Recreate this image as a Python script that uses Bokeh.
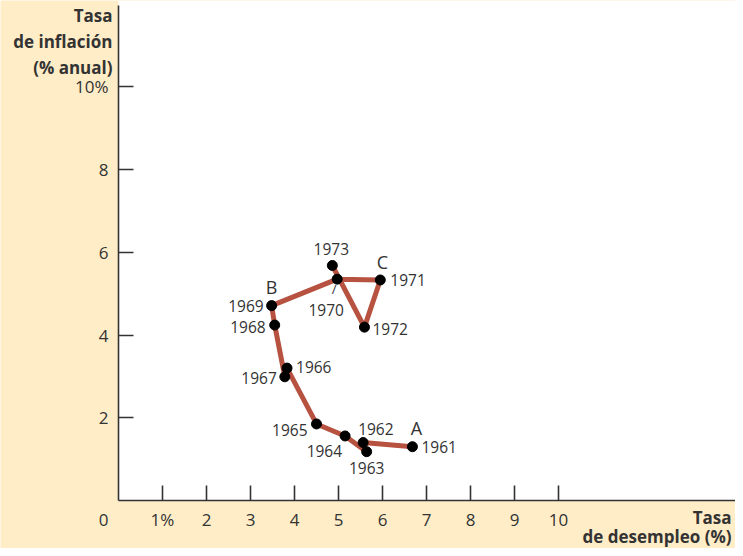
from bokeh.plotting import figure
from bokeh.models import ColumnDataSource, Label, FixedTicker, Range1d, LinearAxis
from bokeh.core.properties import value
from bokeh.embed import file_html
from bokeh.resources import INLINE

# ---- data ----
years = ["1961", "1962", "1963", "1964", "1965", "1966", "1967",
         "1968", "1969", "1970", "1971", "1972", "1973"]
unemployment = [6.68, 5.56, 5.64, 5.15, 4.50, 3.83, 3.78, 3.55, 3.48, 4.97, 5.95, 5.59, 4.86]
inflation = [1.30, 1.40, 1.18, 1.56, 1.85, 3.20, 2.99, 4.24, 4.71, 5.35, 5.33, 4.19, 5.68]
y_ticks = [2, 4, 6, 8, 10]
y_tick_labels = ["2", "4", "6", "8", "10%"]
x_ticks = [1, 2, 3, 4, 5, 6, 7, 8, 9, 10]
x_tick_labels = ["1%", "2", "3", "4", "5", "6", "7", "8", "9", "10"]
point_letters = {"1961": "A", "1969": "B", "1971": "C"}
y_title = ["Tasa", "de inflación", "(% anual)"]
x_title = ["Tasa", "de desempleo (%)"]

# ---- layout (pixels) ----
W, H = 735, 548
X0_PX, Y0_PX = 118, 500          # pixel position of the origin
PX_PER_X, PX_PER_Y = 44.0, 41.375
X_MIN, X_MAX = -X0_PX / PX_PER_X, (W - X0_PX) / PX_PER_X
Y_MIN, Y_MAX = -(H - Y0_PX) / PX_PER_Y, Y0_PX / PX_PER_Y
Y_AXIS_TOP = (Y0_PX - 5) / PX_PER_Y

year_layout = {
    "1961": (9, 0, "left"), "1962": (-5, 14, "left"), "1963": (0, -16, "center"),
    "1964": (-3, -15, "right"), "1965": (-9, -6, "right"), "1966": (9, 1, "left"),
    "1967": (-8, -1, "right"), "1968": (-9, -2, "right"), "1969": (-8, 0, "right"),
    "1970": (-11, -31, "center"), "1971": (10, 0, "left"), "1972": (8, -2, "left"),
    "1973": (-1, 16, "center"),
}
letter_layout = {"A": (4, 19), "B": (0, 19), "C": (2, 18)}

FONT = "Open Sans"
TXT = "#333333"
CREAM = "#FFEDC8"
LINE = "#B75240"

p = figure(width=W, height=H, output_backend="svg", toolbar_location=None,
           x_range=Range1d(X_MIN, X_MAX), y_range=Range1d(Y_MIN, Y_MAX),
           x_axis_type=None, y_axis_type=None,
           min_border=0, min_border_left=0, min_border_right=0,
           min_border_top=0, min_border_bottom=0)
p.background_fill_color = CREAM
p.border_fill_color = CREAM
p.outline_line_color = None
p.grid.visible = False

# white plotting area (quadrant of positive values)
p.quad(left=[0], right=[X_MAX], bottom=[0], top=[Y_MAX], fill_color="white", line_color=None)

xaxis = LinearAxis(fixed_location=0, bounds=(0, X_MAX), ticker=FixedTicker(ticks=x_ticks))
yaxis = LinearAxis(fixed_location=0, bounds=(0, Y_AXIS_TOP), ticker=FixedTicker(ticks=y_ticks))
xaxis.major_label_overrides = dict(zip(x_ticks, x_tick_labels))
yaxis.major_label_overrides = dict(zip(y_ticks, y_tick_labels))
for ax in (xaxis, yaxis):
    ax.axis_line_color = TXT
    ax.axis_line_width = 1.6
    ax.major_tick_line_color = TXT
    ax.major_tick_line_width = 1.6
    ax.major_tick_in = 15
    ax.major_tick_out = 0
    ax.minor_tick_line_color = None
    ax.major_label_text_font = FONT
    ax.major_label_text_font_size = "17px"
    ax.major_label_text_color = TXT
xaxis.major_label_standoff = 7
yaxis.major_label_standoff = 10
p.add_layout(xaxis, "below")
p.add_layout(yaxis, "left")

src = ColumnDataSource(dict(
    x=unemployment, y=inflation, year=years,
    xo=[year_layout[yr][0] for yr in years],
    yo=[-year_layout[yr][1] for yr in years],
    al=[year_layout[yr][2] for yr in years],
))

p.line("x", "y", source=src, line_color=LINE, line_width=5, line_join="round")
p.scatter("x", "y", source=src, size=10, fill_color="black", line_color="black")
p.text("x", "y", text="year", source=src, x_offset="xo", y_offset="yo", text_align="al",
       text_baseline="middle", text_font=value(FONT), text_font_size="15.5px", text_color=TXT)

i70 = years.index("1970")
p.text([unemployment[i70]], [inflation[i70]], text=["/"], x_offset=-3, y_offset=10,
       text_align="center", text_baseline="middle", text_font=value(FONT),
       text_font_size="13px", text_color=TXT)

lsrc = dict(x=[], y=[], t=[], xo=[], yo=[])
for yr, letter in point_letters.items():
    i = years.index(yr)
    lsrc["x"].append(unemployment[i]); lsrc["y"].append(inflation[i]); lsrc["t"].append(letter)
    lsrc["xo"].append(letter_layout[letter][0]); lsrc["yo"].append(-letter_layout[letter][1])
p.text("x", "y", text="t", source=ColumnDataSource(lsrc), x_offset="xo", y_offset="yo",
       text_align="center", text_baseline="middle", text_font=value(FONT),
       text_font_size="18px", text_color=TXT)

# origin "0"
p.add_layout(Label(x=0, y=0, text="0", x_offset=-15, y_offset=-19, text_align="center",
                   text_baseline="middle", text_font=FONT, text_font_size="17px", text_color=TXT))

# axis titles (Label y_offset: positive = up)
for line, dy in zip(y_title, [15, 41, 67]):
    p.add_layout(Label(x=0, y=Y_MAX, text=line, x_offset=-6, y_offset=-dy,
                       text_align="right", text_baseline="middle", text_font=FONT,
                       text_font_size="17px", text_font_style="bold", text_color=TXT))
for line, dy in zip(x_title, [17, 36]):
    p.add_layout(Label(x=X_MAX, y=0, text=line, x_offset=-4, y_offset=-dy,
                       text_align="right", text_baseline="middle", text_font=FONT,
                       text_font_size="17px", text_font_style="bold", text_color=TXT))

open("out.html", "w").write(file_html(p, INLINE))
